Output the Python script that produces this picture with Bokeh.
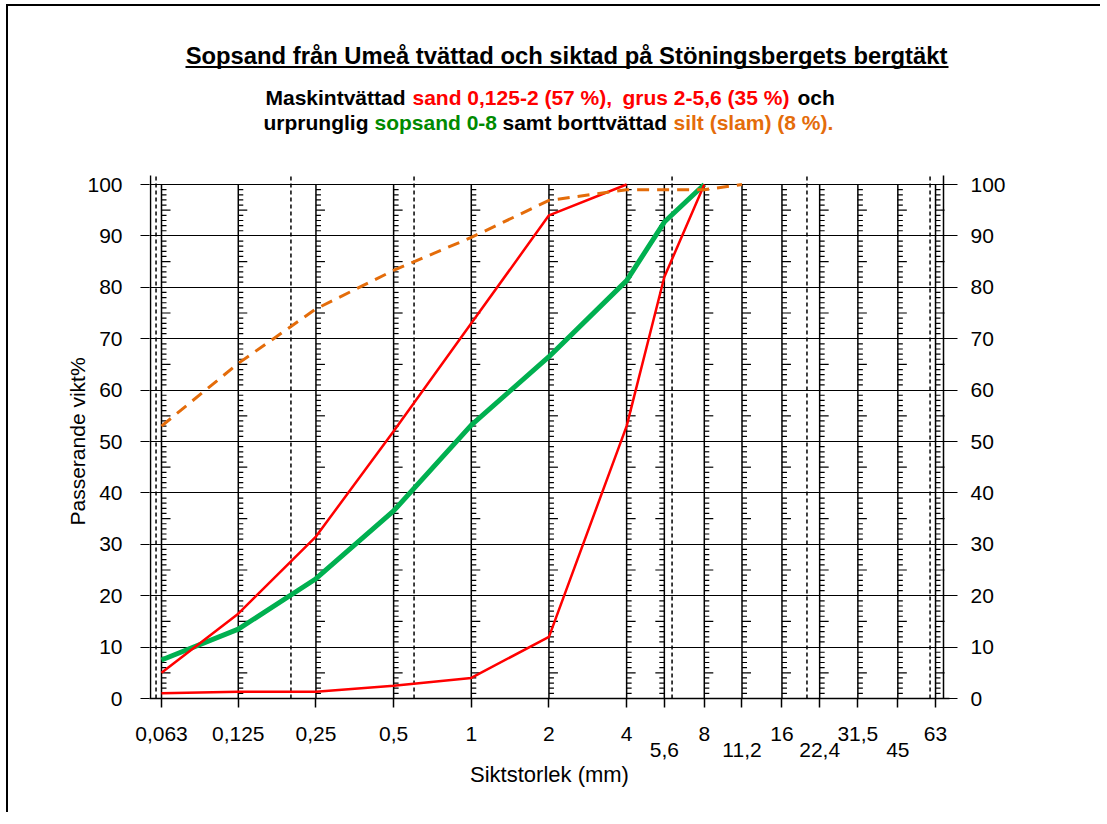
import math
from bokeh.plotting import figure
from bokeh.models import (FixedTicker, LogAxis, LinearAxis, Range1d, Label, BoxAnnotation, Title)
from bokeh.embed import file_html
from bokeh.resources import INLINE

# ---------------- data ----------------
title_text = "Sopsand från Umeå tvättad och siktad på Stöningsbergets bergtäkt"
subtitle_line1 = [("Maskintvättad", "#000000"), ("sand 0,125-2 (57 %),", "#FF0000"),
                  ("grus 2-5,6 (35 %)", "#FF0000"), ("och", "#000000")]
subtitle_line2 = [("urprunglig", "#000000"), ("sopsand 0-8", "#008A00"),
                  ("samt borttvättad", "#000000"), ("silt (slam) (8 %).", "#E46C0A")]
y_label = "Passerande vikt%"
x_label = "Siktstorlek (mm)"

sieve_sizes = [0.063, 0.125, 0.25, 0.5, 1, 2, 4, 5.6, 8, 11.2, 16, 22.4, 31.5, 45, 63]
sieve_labels = ["0,063", "0,125", "0,25", "0,5", "1", "2", "4", "5,6", "8",
                "11,2", "16", "22,4", "31,5", "45", "63"]
lower_row = [5.6, 11.2, 22.4, 45]
comb_left = [5.6]
fraction_bounds = [0.06, 0.2, 0.6, 6, 20, 60]
y_ticks = [0, 10, 20, 30, 40, 50, 60, 70, 80, 90, 100]

sand_x = [0.063, 0.125, 0.25, 0.5, 1, 2, 4]
sand_y = [5, 16.5, 31.5, 52, 73, 94, 100]

grus_x = [0.063, 0.125, 0.25, 0.5, 1, 2, 4, 5.6, 8]
grus_y = [1, 1.3, 1.3, 2.5, 4, 12, 53, 82, 100]

sopsand_x = [0.063, 0.125, 0.25, 0.5, 1, 2, 4, 5.6, 8]
sopsand_y = [7.5, 13.5, 23.3, 36.5, 53.2, 66.5, 81.3, 92.7, 100]

silt_x = [0.063, 0.125, 0.25, 0.5, 1, 2, 4, 5.6, 8, 11.2]
silt_y = [53, 65.2, 75.8, 83.3, 89.7, 96.9, 99, 99, 99, 100]

# axis-line positions (edges of the printed diagram) and top of the diagram
axis_left_x = 0.05711
axis_right_x = 67.64
diagram_top = 101.75

FONT = "Liberation Sans"
W, H = 1100, 812

p = figure(width=W, height=H, x_axis_type="log",
           x_range=Range1d(0.05660, 71.36), y_range=Range1d(0, 135.80),
           output_backend="svg", toolbar_location=None,
           min_border_left=149, min_border_right=W - 949,
           min_border_top=0, min_border_bottom=H - 698,
           styles={"box-shadow": "inset 6px 4px 0px 0px white, inset 8px 6px 0px 0px black"})
p.title.visible = False
p.outline_line_color = None
p.background_fill_color = None
p.border_fill_color = None
p.xgrid.visible = False
p.ygrid.ticker = FixedTicker(ticks=y_ticks)
p.ygrid.grid_line_color = "black"
p.ygrid.grid_line_width = 1.2

# ---- x axes ----
upper_over = {s: (lbl if s not in lower_row else "") for s, lbl in zip(sieve_sizes, sieve_labels)}
xa = p.xaxis[0]
xa.ticker = FixedTicker(ticks=sieve_sizes, minor_ticks=[])
xa.major_label_overrides = upper_over
xa.major_tick_out = 9
xa.major_tick_in = 0
xa.minor_tick_out = 0
xa.minor_tick_in = 0
xa.major_tick_line_width = 1.5
xa.axis_line_width = 1.5
xa.major_label_standoff = 19
xa.major_label_text_font = FONT
xa.major_label_text_font_size = "21px"
xa.major_label_text_color = "black"

lower_over = {s: lbl for s, lbl in zip(sieve_sizes, sieve_labels) if s in lower_row}
xa2 = LogAxis(ticker=FixedTicker(ticks=lower_row, minor_ticks=[]),
              major_label_overrides=lower_over,
              major_tick_out=0, major_tick_in=0, minor_tick_out=0, minor_tick_in=0,
              axis_line_color=None, major_label_standoff=-1,
              major_label_text_font=FONT, major_label_text_font_size="21px",
              major_label_text_color="black",
              axis_label=x_label, axis_label_text_font=FONT,
              axis_label_text_font_size="22px", axis_label_text_font_style="normal",
              axis_label_standoff=2, axis_label_text_color="black")
p.add_layout(xa2, "below")

# ---- y axes (axis lines drawn as segments, since the frame reaches the top) ----
ya = p.yaxis[0]
ya.ticker = FixedTicker(ticks=y_ticks, minor_ticks=[])
ya.axis_line_color = None
ya.major_tick_out = 9
ya.major_tick_in = 0
ya.minor_tick_out = 0
ya.minor_tick_in = 0
ya.major_tick_line_width = 1.2
ya.major_label_standoff = 18
ya.major_label_text_font = FONT
ya.major_label_text_font_size = "21px"
ya.major_label_text_color = "black"

yr = LinearAxis(ticker=FixedTicker(ticks=y_ticks, minor_ticks=[]),
                axis_line_color=None,
                major_tick_out=8, major_tick_in=6, minor_tick_out=0, minor_tick_in=0,
                major_tick_line_width=1.2,
                major_label_standoff=13, major_label_text_font=FONT,
                major_label_text_font_size="21px", major_label_text_color="black")
p.add_layout(yr, "right")

p.add_layout(Title(text=y_label, align="left", offset=173, standoff=-8,
                   text_font=FONT, text_font_size="21px", text_font_style="normal",
                   text_color="black"), "left")

p.segment(x0=[axis_left_x, axis_right_x], y0=[0, 0],
          x1=[axis_left_x, axis_right_x], y1=[diagram_top, diagram_top],
          line_color="black", line_width=1.5)

# ---- grid structure: sieve lines, fraction bounds, combs ----
p.segment(x0=sieve_sizes, y0=[y_ticks[0]] * len(sieve_sizes),
          x1=sieve_sizes, y1=[y_ticks[-1]] * len(sieve_sizes),
          line_color="black", line_width=1.5)
p.segment(x0=fraction_bounds, y0=[0] * len(fraction_bounds),
          x1=fraction_bounds, y1=[diagram_top] * len(fraction_bounds),
          line_color="black", line_width=1.5, line_dash="4 3")

cx, cy, cl, ca = [], [], [], []
for s in sieve_sizes:
    for v in range(1, 100):
        if v % 10 == 0:
            continue
        cx.append(s)
        cy.append(v)
        cl.append(9 if v % 5 == 0 else 5)
        ca.append(math.pi if s in comb_left else 0.0)
p.ray(x=cx, y=cy, length=cl, angle=ca, length_units="screen",
      line_color="black", line_width=1.2)

# ---- curves ----
p.line(sopsand_x, sopsand_y, line_color="#00B050", line_width=5)
p.line(sand_x, sand_y, line_color="#FF0000", line_width=2.5)
p.line(grus_x, grus_y, line_color="#FF0000", line_width=2.5)
p.line(silt_x, silt_y, line_color="#E46C0A", line_width=3, line_dash="12 8")

# ---- titles (inside the frame, canvas units) ----
p.add_layout(Label(x=566, y=55, x_units="canvas", y_units="canvas", text=title_text,
                   text_align="center", text_baseline="middle", text_font=FONT,
                   text_font_style="bold", text_font_size="23.8px", text_color="black"))
p.add_layout(BoxAnnotation(left=185, right=948, top=65.5, bottom=67.5,
                           left_units="canvas", right_units="canvas",
                           top_units="canvas", bottom_units="canvas",
                           fill_color="black", fill_alpha=1, line_color=None))

x1 = [265, 412, 622, 797]
x2 = [263, 374, 502, 673]
for (txt, col), xx in zip(subtitle_line1, x1):
    p.add_layout(Label(x=xx, y=97, x_units="canvas", y_units="canvas", text=txt,
                       text_align="left", text_baseline="middle", text_font=FONT,
                       text_font_style="bold", text_font_size="21px", text_color=col))
for (txt, col), xx in zip(subtitle_line2, x2):
    p.add_layout(Label(x=xx, y=122, x_units="canvas", y_units="canvas", text=txt,
                       text_align="left", text_baseline="middle", text_font=FONT,
                       text_font_style="bold", text_font_size="21px", text_color=col))

open("out.html", "w").write(file_html(p, INLINE))
